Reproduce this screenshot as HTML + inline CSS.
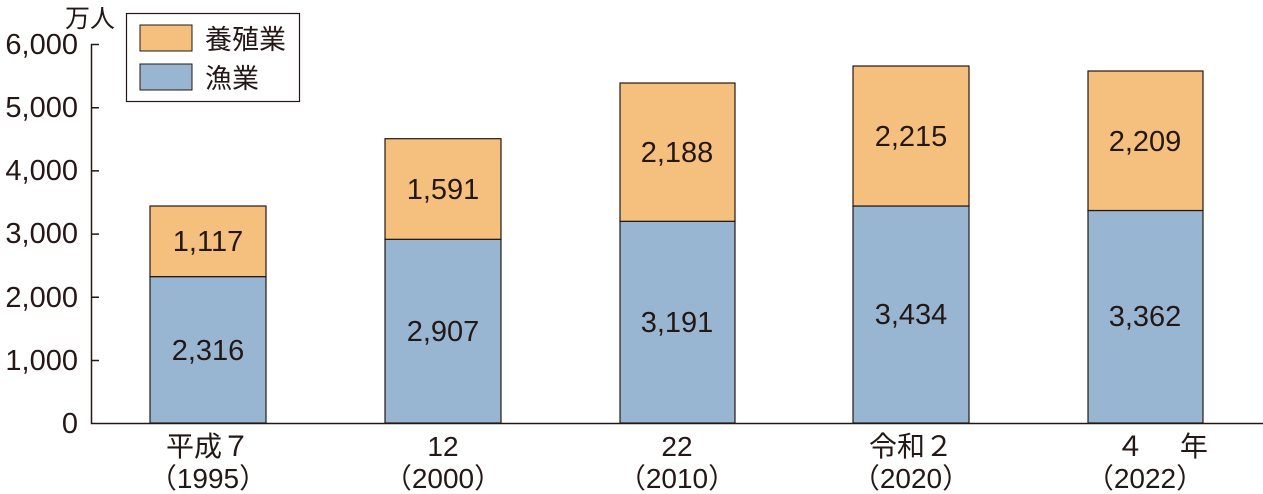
<!DOCTYPE html>
<html><head><meta charset="utf-8"><style>
html,body{margin:0;padding:0;background:#fff;}
svg{display:block;font-family:"Liberation Sans","Noto Sans CJK JP",sans-serif;}
</style></head><body>
<svg width="1263" height="494" viewBox="0 0 1263 494" xmlns="http://www.w3.org/2000/svg">
<g fill="#231815" font-size="29">
<text x="65" y="27" font-size="25">万人</text>
<g text-anchor="end">
<text x="78" y="54">6,000</text>
<text x="78" y="117">5,000</text>
<text x="78" y="180">4,000</text>
<text x="78" y="243">3,000</text>
<text x="78" y="307">2,000</text>
<text x="78" y="370">1,000</text>
<text x="78" y="433">0</text>
</g>
</g>
<g stroke="#231815" stroke-width="1.5" fill="none">
<path d="M91.5 44V423.5H1263"/>
<path d="M91 44.5h8M91 107.7h8M91 170.9h8M91 234.1h8M91 297.3h8M91 360.5h8"/>
</g>
<g stroke="#231815" stroke-width="1.2">
<rect x="150" y="276.6" width="116" height="146.4" fill="#98B6D2"/>
<rect x="150" y="206" width="116" height="70.6" fill="#F5C07E"/>
<rect x="385" y="239.3" width="116" height="183.7" fill="#98B6D2"/>
<rect x="385" y="138.7" width="116" height="100.6" fill="#F5C07E"/>
<rect x="620" y="221.3" width="115" height="201.7" fill="#98B6D2"/>
<rect x="620" y="83" width="115" height="138.3" fill="#F5C07E"/>
<rect x="853" y="206" width="116" height="217" fill="#98B6D2"/>
<rect x="853" y="66" width="116" height="140" fill="#F5C07E"/>
<rect x="1088" y="210.5" width="115" height="212.5" fill="#98B6D2"/>
<rect x="1088" y="71" width="115" height="139.5" fill="#F5C07E"/>
</g>
<g fill="#231815" font-size="29" text-anchor="middle">
<text x="208" y="360">2,316</text><text x="208" y="251">1,117</text>
<text x="443" y="341">2,907</text><text x="443" y="199">1,591</text>
<text x="677" y="332">3,191</text><text x="677" y="162">2,188</text>
<text x="911" y="324">3,434</text><text x="911" y="146">2,215</text>
<text x="1145" y="326">3,362</text><text x="1145" y="151">2,209</text>
<g font-size="28">
<text x="208" y="456">平成７</text><text x="208" y="488">（1995）</text>
<text x="443" y="456">12</text><text x="443" y="488">（2000）</text>
<text x="677" y="456">22</text><text x="677" y="488">（2010）</text>
<text x="911" y="456">令和２</text><text x="911" y="488">（2020）</text>
<text x="1162" y="456">４　 年</text><text x="1145" y="488">（2022）</text>
</g>
</g>
<rect x="126.5" y="13.5" width="173" height="88" fill="#fff" stroke="#231815" stroke-width="1.2"/>
<rect x="140" y="25" width="52" height="26" fill="#F5C07E" stroke="#231815" stroke-width="1"/>
<rect x="140" y="64" width="52" height="26" fill="#98B6D2" stroke="#231815" stroke-width="1"/>
<g fill="#231815" font-size="27"><text x="205" y="49">養殖業</text><text x="205" y="88">漁業</text></g>
</svg>
</body></html>
